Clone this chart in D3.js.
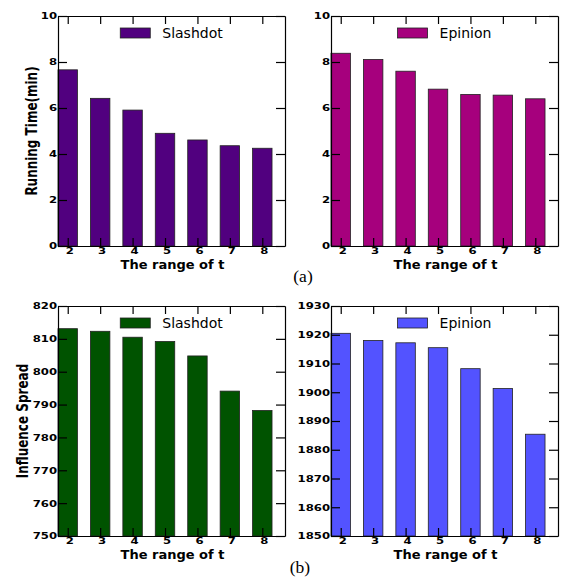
<!DOCTYPE html>
<html>
<head>
<meta charset="utf-8">
<script src="https://cdn.jsdelivr.net/npm/d3@7"></script>
<style>
  body { margin: 0; background: #fff; }
  svg { display: block; }
  .tick text { font-family: "DejaVu Sans", sans-serif; font-weight: bold; font-size: 9.2px; fill: #000; }
  .xtitle, .ytitle { font-family: "DejaVu Sans", sans-serif; font-weight: bold; }
  .legend text { font-family: "DejaVu Sans", sans-serif; font-size: 14px; }
  .caption { font-family: "Liberation Serif", "Times New Roman", serif; font-size: 17.5px; }
</style>
</head>
<body>
<svg id="chart" width="565" height="577"></svg>
<script>
// data
var tRange = [2, 3, 4, 5, 6, 7, 8];
var timeSlashdot = [7.66, 6.42, 5.91, 4.90, 4.61, 4.36, 4.25];
var timeEpinion = [8.38, 8.11, 7.60, 6.82, 6.59, 6.56, 6.40];
var spreadSlashdot = [813.1, 812.3, 810.5, 809.2, 804.8, 794.1, 788.2];
var spreadEpinion = [1920.5, 1918.0, 1917.2, 1915.5, 1908.2, 1901.3, 1885.4];
var timeTicks = [0, 2, 4, 6, 8, 10];
var slashTicks = [750, 760, 770, 780, 790, 800, 810, 820];
var epinionTicks = [1850, 1860, 1870, 1880, 1890, 1900, 1910, 1920, 1930];

var svg = d3.select('#chart');
var W = 227, H = 230, SX = 1.27;

var panels = [
  {left: 58,  top: 16,  vals: timeSlashdot,   ticks: timeTicks,    name: 'Slashdot', color: '#51007f', ytitle: 'Running Time(min)', tx: -21},
  {left: 331, top: 16,  vals: timeEpinion,    ticks: timeTicks,    name: 'Epinion',  color: '#a6007d'},
  {left: 58,  top: 306, vals: spreadSlashdot, ticks: slashTicks,   name: 'Slashdot', color: '#005300', ytitle: 'Influence Spread', tx: -30},
  {left: 331, top: 306, vals: spreadEpinion,  ticks: epinionTicks, name: 'Epinion',  color: '#5353ff'}
];

panels.forEach(function(p) {
  var g = svg.append('g').attr('transform', 'translate(' + p.left + ',' + p.top + ')');
  var x = d3.scaleLinear().domain([1.7, 8.7]).range([0, W]);
  var y = d3.scaleLinear().domain(d3.extent(p.ticks)).range([H, 0]);

  g.selectAll('rect.bar')
    .data(tRange)
    .enter().append('rect')
    .attr('class', 'bar')
    .attr('x', function(d) { return x(d - 0.3); })
    .attr('width', function(d) { return x(d + 0.3) - x(d - 0.3); })
    .attr('y', function(d, i) { return y(p.vals[i]); })
    .attr('height', function(d, i) { return H - y(p.vals[i]); })
    .attr('fill', p.color)
    .attr('stroke', '#222')
    .attr('stroke-width', 0.8);

  // frame: ticks point inwards on all four sides
  var left = g.append('g')
    .call(d3.axisLeft(y).tickValues(p.ticks).tickSizeInner(-9).tickSizeOuter(0).tickPadding(1).tickFormat(d3.format('d')));
  left.selectAll('text').attr('x', -1 / SX).attr('transform', 'scale(' + SX + ',1)');

  g.append('g').attr('transform', 'translate(' + W + ',0)')
    .call(d3.axisRight(y).tickValues(p.ticks).tickSizeInner(-9).tickSizeOuter(0).tickFormat(''));

  g.append('g')
    .call(d3.axisTop(x).tickValues(tRange).tickSizeInner(-8).tickSizeOuter(0).tickFormat(''));

  var bottom = g.append('g').attr('transform', 'translate(0,' + H + ')')
    .call(d3.axisBottom(x).tickValues(tRange).tickSizeInner(-8).tickSizeOuter(0).tickPadding(1).tickFormat(d3.format('d')));
  bottom.selectAll('text').attr('transform', 'scale(' + SX + ',1)').attr('x', 1.5 / SX);

  g.selectAll('.tick text').attr('font-weight', 'bold');
  g.selectAll('.domain').attr('stroke', '#000').attr('stroke-width', 1.2);
  g.selectAll('.tick line').attr('stroke', '#000').attr('stroke-width', 1.2);

  g.append('text').attr('class', 'xtitle')
    .attr('x', W / 2 + 1).attr('y', H + 23)
    .attr('text-anchor', 'middle')
    .style('font-size', '13px')
    .text('The range of t');

  if (p.ytitle) {
    g.append('text').attr('class', 'ytitle')
      .attr('transform', 'translate(' + p.tx + ',' + (H / 2) + ') rotate(-90) scale(1,' + SX + ')')
      .attr('text-anchor', 'middle')
      .style('font-size', '12px')
      .text(p.ytitle);
  }

  // legend, centred over the plot
  var lg = g.append('g').attr('class', 'legend');
  var lt = lg.append('text').attr('x', 42).attr('y', 21.5).text(p.name);
  var tw = lt.node().getComputedTextLength();
  lg.append('rect').attr('x', 0).attr('y', 12).attr('width', 30).attr('height', 10)
    .attr('fill', p.color).attr('stroke', '#222').attr('stroke-width', 0.8);
  lg.attr('transform', 'translate(' + (W / 2 - (42 + tw) / 2) + ',0)');
});

svg.append('text').attr('class', 'caption').attr('x', 303).attr('y', 282).attr('text-anchor', 'middle').text('(a)');
svg.append('text').attr('class', 'caption').attr('x', 300).attr('y', 573).attr('text-anchor', 'middle').text('(b)');
</script>
</body>
</html>
